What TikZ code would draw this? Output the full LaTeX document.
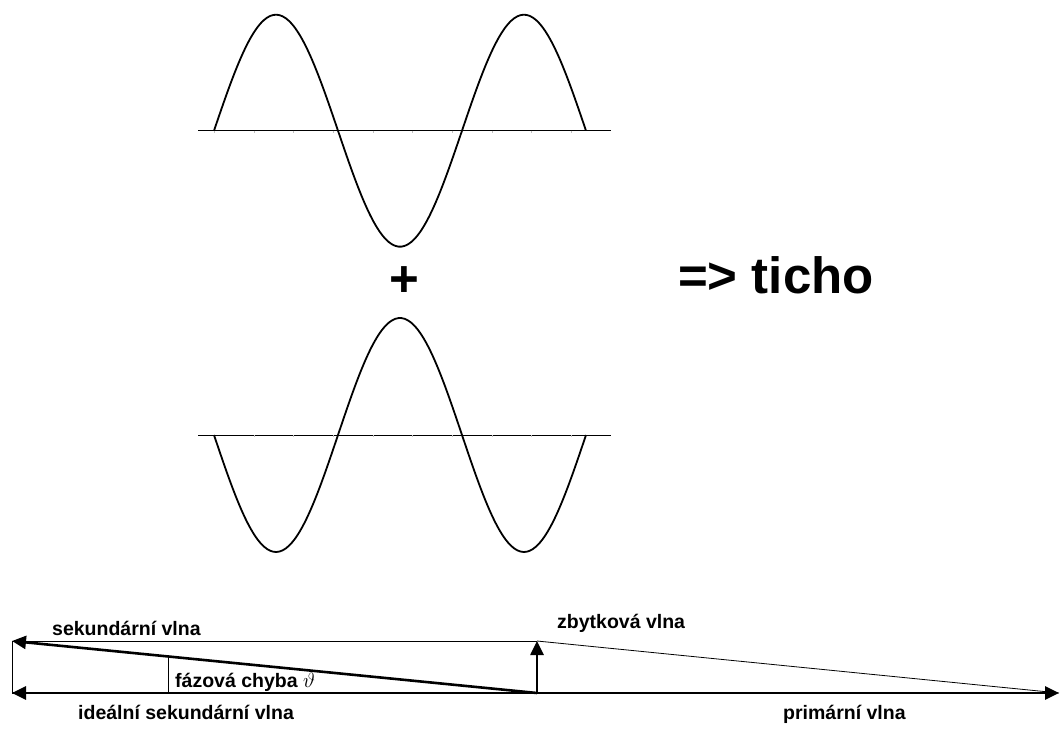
\documentclass[tikz,border=0pt]{standalone}
\usepackage{fontspec}
\setmainfont{Liberation Sans}
\usetikzlibrary{arrows.meta,calc,positioning}
\tikzset{
  wave/.style={line width=1.8pt, line join=round},
  axisline/.style={line width=0.9pt},
  tick/.style={line width=0.4pt, draw=black!25},
  thinline/.style={line width=0.8pt},
  vec/.style={line width=2.6pt, -{Triangle[length=14pt, width=13pt]}},
  lbl/.style={font=\fontsize{19.5}{21}\selectfont\bfseries, inner sep=0pt, anchor=base west},
  big/.style={font=\fontsize{51}{56}\selectfont\bfseries, inner sep=0pt},
}
\begin{document}
\begin{tikzpicture}[x=1pt, y=-1pt]
\useasboundingbox (0,0) rectangle (1060,730);
% primary wave
\draw[axisline] (198,130.7) -- (611,130.7);
\foreach \t in {0,...,9} \draw[tick] ({214+39.7*\t},130.7) -- ({214+39.7*\t},133);
\draw[wave] plot[domain=214:586, samples=120, smooth] (\x, {130.7-116*sin((\x-214)/248*360)});
\node[big] (plus) at (404,282) {+};
% secondary wave
\draw[axisline] (198,435) -- (611,435);
\foreach \t in {0,...,9} \draw[tick] ({214+39.7*\t},435) -- ({214+39.7*\t},437);
\draw[wave] plot[domain=214:586, samples=120, smooth] (\x, {435+117*sin((\x-214)/248*360)});
\node[big, anchor=base west] (ticho) at (678,293) {=> ticho};
% vector diagram
\coordinate (O) at (537,693);
\coordinate (L) at (12,693);
\coordinate (R) at (1059,693);
\coordinate (S) at (12,641);
\coordinate (Z) at (537,641);
\coordinate (M) at ($(O)!0.703!(S)$);
\draw[thinline] (S) -- (Z);
\draw[thinline] (S) -- (L);
\draw[thinline] (Z) -- (R);
\draw[thinline] (M) -- (M |- O);
\draw[vec] (L) -- (R);
\draw[vec] (O) -- (L);
\draw[vec] (O) -- (S);
\draw[vec] (O) -- (Z);
\node[lbl] (sek) at (52,635) {sekundární vlna};
\node[lbl] (faze) at (175,687) {fázová chyba \mdseries$\vartheta$};
\node[lbl] (ideal) at (78,719) {ideální sekundární vlna};
\node[lbl] (zbytek) at (557,628) {zbytková vlna};
\node[lbl] (prim) at (783,719) {primární vlna};
\end{tikzpicture}
\end{document}
